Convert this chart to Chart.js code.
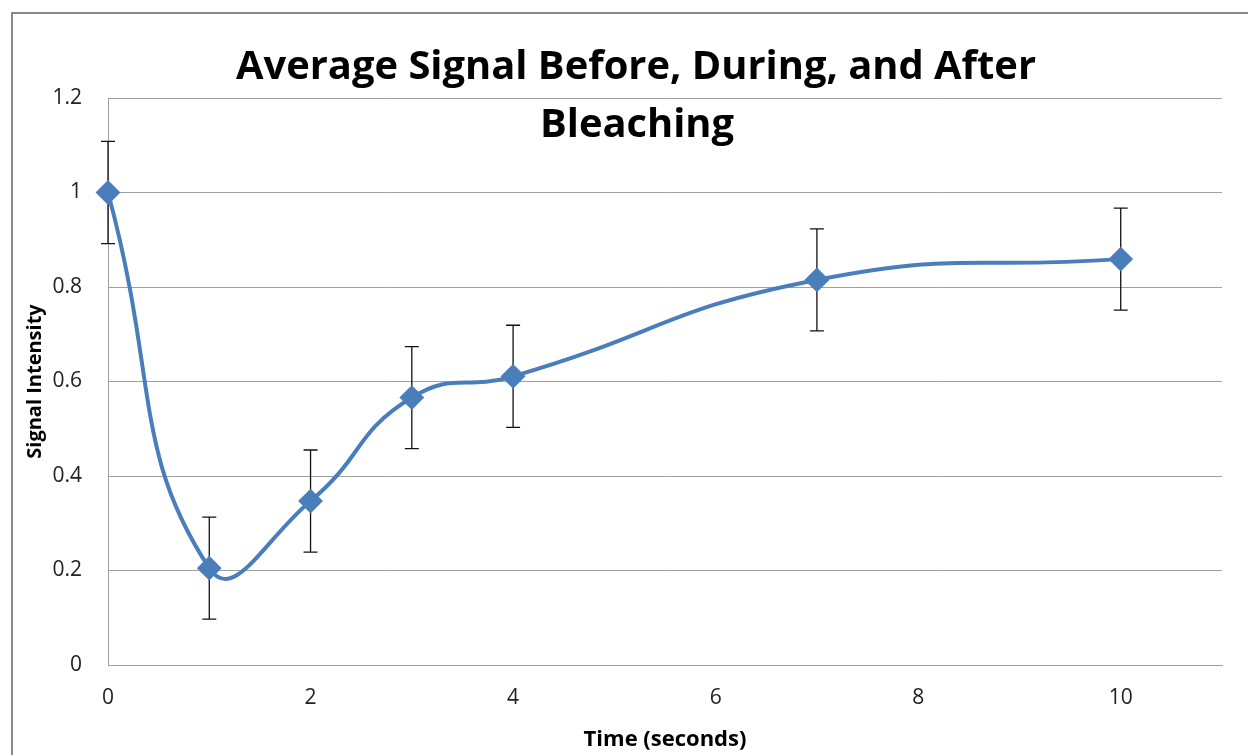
<!DOCTYPE html>
<html>
<head>
<meta charset="utf-8">
<script src="https://cdn.jsdelivr.net/npm/chart.js@4"></script>
<style>
    body { margin: 0; background: #fff; overflow: hidden; }
    .frame {
        position: absolute; left: 11px; top: 12px;
        width: 2000px; height: 2000px;
        border-top: 2px solid #8a8a8a; border-left: 2px solid #8a8a8a;
    }
    #signalChart { position: absolute; left: 0; top: 0; }
</style>
</head>
<body>
<div class="frame"></div>
<canvas id="signalChart" width="1248" height="755"></canvas>
<script>
// Data
const timePoints = [0, 1, 2, 3, 4, 7, 10];
const signalValues = [1.0, 0.205, 0.347, 0.566, 0.611, 0.815, 0.859];
const signalErrors = [0.108, 0.108, 0.108, 0.108, 0.108, 0.108, 0.108];
const xTickValues = [0, 2, 4, 6, 8, 10];
const titleLines = ['Average Signal Before, During, and After', 'Bleaching'];
const xTitle = 'Time (seconds)';
const yTitle = 'Signal Intensity';

const FONT = "'Open Sans', 'Liberation Sans', sans-serif";
const BLUE = '#4a7ebb';

// Error bars drawn under the line, from the chart scales
const errorBars = {
    id: 'errorBars',
    beforeDatasetsDraw(chart) {
        const { ctx, scales: { x, y } } = chart;
        ctx.save();
        ctx.strokeStyle = '#111';
        ctx.lineWidth = 1.3;
        timePoints.forEach((t, i) => {
            const px = x.getPixelForValue(t);
            const top = y.getPixelForValue(signalValues[i] + signalErrors[i]);
            const bot = y.getPixelForValue(signalValues[i] - signalErrors[i]);
            ctx.beginPath();
            ctx.moveTo(px, top); ctx.lineTo(px, bot);
            ctx.moveTo(px - 7, top); ctx.lineTo(px + 7, top);
            ctx.moveTo(px - 7, bot); ctx.lineTo(px + 7, bot);
            ctx.stroke();
        });
        ctx.restore();
    }
};

// Title sits over the top of the plot, like the original
const overlayTitle = {
    id: 'overlayTitle',
    afterDraw(chart) {
        const ctx = chart.ctx;
        ctx.save();
        ctx.fillStyle = '#000';
        ctx.font = `bold 40px ${FONT}`;
        ctx.textAlign = 'center';
        ctx.textBaseline = 'alphabetic';
        ctx.fillText(titleLines[0], 636, 79, 800);
        ctx.fillText(titleLines[1], 637, 137, 194);
        ctx.restore();
    }
};

new Chart(document.getElementById('signalChart'), {
    type: 'line',
    data: {
        datasets: [{
            data: timePoints.map((t, i) => ({ x: t, y: signalValues[i] })),
            borderColor: BLUE,
            backgroundColor: BLUE,
            borderWidth: 4,
            tension: 0.5,
            pointStyle: 'rectRot',
            pointRadius: 11,
            pointBorderWidth: 2,
            pointBorderColor: BLUE,
            clip: false
        }]
    },
    options: {
        responsive: false,
        animation: false,
        devicePixelRatio: 1,
        layout: { padding: { top: 98, right: 26, left: 0, bottom: 0 } },
        plugins: { legend: { display: false }, tooltip: { enabled: false }, title: { display: false } },
        scales: {
            x: {
                type: 'linear',
                min: 0, max: 11,
                afterFit(s) { s.height = 90; },
                afterBuildTicks(s) { s.ticks = xTickValues.map(v => ({ value: v })); },
                grid: { display: false, drawTicks: false },
                border: { display: true, color: '#a0a0a0', width: 1 },
                ticks: { color: '#222', padding: 20, font: { family: FONT, size: 21 } },
                title: {
                    display: true, text: xTitle, color: '#000',
                    font: { family: FONT, size: 22, weight: 'bold' },
                    padding: { top: 0, bottom: 2 }
                }
            },
            y: {
                min: 0, max: 1.2,
                afterFit(s) { s.width = 108; },
                grid: { color: '#a0a0a0', lineWidth: 1, drawTicks: false },
                border: { display: true, color: '#a0a0a0', width: 1 },
                ticks: { stepSize: 0.2, color: '#222', padding: 26, font: { family: FONT, size: 21 },
                    callback: v => Math.round(v * 10) / 10 },
                title: {
                    display: true, text: yTitle, color: '#000',
                    font: { family: FONT, size: 20, weight: 'bold' },
                    padding: { top: 23, bottom: 0 }
                }
            }
        }
    },
    plugins: [errorBars, overlayTitle]
});
</script>
</body>
</html>
